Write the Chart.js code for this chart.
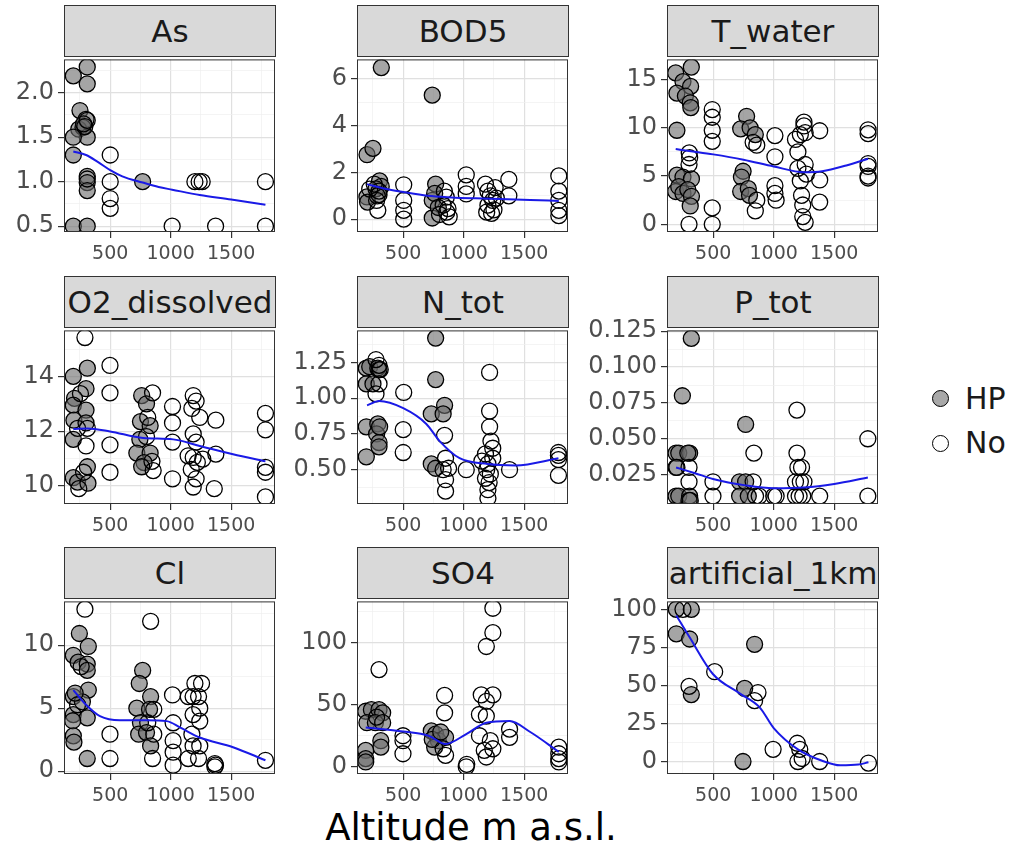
<!DOCTYPE html>
<html>
<head>
<title>Altitude facets</title>
<script src="https://cdn.jsdelivr.net/npm/chart.js@4"></script>
<style>
    body { margin: 0; background: #fff; font-family: "DejaVu Sans", sans-serif; }
    #wrap { position: relative; width: 1014px; height: 851px; overflow: hidden; background: #fff; }
    canvas { position: absolute; }
    .strip { position: absolute; box-sizing: border-box; background: #D9D9D9; border: 1px solid #333;
             color: #1A1A1A; font-size: 31px; text-align: center; height: 52px; line-height: 50px; white-space: nowrap; }
    .key { position: absolute; width: 17px; height: 17px; box-sizing: border-box; border: 1.3px solid #000; border-radius: 50%; }
    .lab { position: absolute; font-size: 30px; line-height: 36px; color: #1A1A1A; }
    #xtitle { position: absolute; left: 221px; width: 500px; top: 806px; font-size: 37px; line-height: 44px; text-align: center; color: #000; }
</style>
<script>
// x axis (shared by all panels)
const xMajor = [500, 1000, 1500];
const xLabels = ['500', '1000', '1500'];
const xMinor = [250, 750, 1250, 1750];

// As
const asHP = [[195,2.19],[310,2.29],[310,2.10],[250,1.80],[300,1.70],[240,1.59],[275,1.61],[310,1.50],[195,1.50],[195,1.30],[310,1.06],[310,0.99],[310,0.90],[768,1.0],[195,0.5],[310,0.5],[280,1.65]];
const asNo = [[310,1.69],[290,1.62],[500,1.30],[500,1.0],[500,0.81],[500,0.70],[1012,0.5],[1200,1.0],[1235,1.0],[1260,1.0],[1371,0.5],[1783,1.0],[1783,0.5],[310,1.03]];
const asFit = [[195,1.34],[300,1.30],[400,1.22],[500,1.13],[600,1.06],[768,0.99],[900,0.94],[1012,0.91],[1240,0.85],[1500,0.80],[1783,0.74]];
const asY = [0.5, 1, 1.5, 2];
const asYLab = ['0.5', '1.0', '1.5', '2.0'];
const asYMinor = [0.75, 1.25, 1.75, 2.25];

// BOD5
const bodHP = [[319,6.49],[740,5.31],[201,2.76],[250,3.03],[305,1.64],[318,1.4],[200,0.95],[205,0.73],[275,1.3],[300,1.05],[768,1.5],[740,0.8],[760,1.1],[740,0.05],[790,0.5]];
const bodNo = [[223,1.29],[280,0.8],[290,0.38],[285,1.0],[260,1.5],[300,1.2],[504,1.47],[504,0.8],[504,0.38],[504,0.0],[856,0.94],[830,0.6],[860,0.3],[880,0.1],[870,0.45],[840,1.2],[800,0.2],[1021,1.9],[1021,1.4],[1021,1.08],[1180,1.5],[1200,1.2],[1220,1.0],[1240,0.8],[1200,0.6],[1250,0.4],[1230,0.25],[1190,0.3],[1260,1.35],[1270,0.9],[1373,1.7],[1373,1.0],[1786,1.85],[1786,1.2],[1786,0.8],[1786,0.38],[1786,0.15]];
const bodFit = [[201,1.5],[350,1.3],[500,1.16],[700,1.0],[900,0.93],[1100,0.89],[1300,0.86],[1550,0.82],[1786,0.78]];
const bodY = [0, 2, 4, 6];
const bodYLab = ['0', '2', '4', '6'];
const bodYMinor = [1, 3, 5];

// T_water
const twHP = [[190,15.7],[319,16.3],[250,14.8],[313,14.3],[200,13.6],[270,13.3],[310,12.6],[315,12.1],[200,9.75],[200,5.1],[250,4.9],[320,4.7],[190,3.4],[215,3.9],[250,3.2],[290,3.6],[320,2.9],[310,1.9],[776,11.2],[727,9.9],[805,10.0],[848,9.3],[747,5.5],[733,4.9],[727,3.4],[790,3.7],[800,3.0]];
const twNo = [[302,7.4],[305,6.9],[300,6.2],[300,0],[492,11.9],[492,11.1],[492,9.75],[492,8.6],[492,1.7],[492,0],[848,1.4],[830,8.5],[860,8.2],[860,2.5],[1010,9.2],[1010,7.0],[1010,4.0],[1010,3.2],[1020,2.5],[1180,8.8],[1200,7.5],[1200,5.8],[1220,9.3],[1220,4.5],[1230,3.0],[1240,2.0],[1240,0.8],[1250,10.2],[1250,10.6],[1260,9.5],[1260,6.2],[1260,0.2],[1270,5.2],[1380,9.7],[1380,4.6],[1380,2.3],[1780,9.8],[1780,9.4],[1780,6.3],[1780,6.0],[1780,5.0],[1780,4.8]];
const twFit = [[190,7.8],[300,7.6],[500,7.25],[750,6.7],[1000,6.0],[1250,5.4],[1400,5.5],[1600,6.1],[1780,6.8]];
const twY = [0, 5, 10, 15];
const twYLab = ['0', '5', '10', '15'];
const twYMinor = [2.5, 7.5, 12.5];

// O2_dissolved
const o2HP = [[195,14.0],[311,14.3],[300,13.55],[205,13.2],[195,12.95],[300,12.77],[200,12.4],[300,12.3],[195,11.7],[311,10.7],[195,10.3],[230,10.14],[316,10.1],[760,13.3],[800,13.0],[750,12.35],[830,12.2],[745,11.7],[720,11.2],[830,11.2],[780,10.85],[760,10.7]];
const o2No = [[291,15.42],[254,13.37],[230,12.1],[311,12.1],[300,11.46],[280,10.5],[240,9.9],[498,14.4],[498,13.4],[498,11.5],[498,10.5],[850,13.4],[810,12.5],[800,11.8],[845,10.9],[855,10.56],[1015,12.9],[1015,12.3],[1015,11.6],[1015,10.26],[1186,13.3],[1210,13.1],[1175,12.83],[1240,12.5],[1186,11.9],[1210,11.6],[1144,11.1],[1186,11.04],[1220,10.86],[1170,10.6],[1210,10.26],[1186,9.96],[1265,10.98],[1373,12.4],[1373,11.16],[1360,9.9],[1783,12.65],[1783,12.05],[1783,10.68],[1783,10.5],[1783,9.6]];
const o2Fit = [[195,12.08],[311,12.1],[498,11.99],[773,11.75],[1020,11.7],[1240,11.46],[1515,11.16],[1783,10.9]];
const o2Y = [10, 12, 14];
const o2YLab = ['10', '12', '14'];
const o2YMinor = [11, 13, 15];

// N_tot
const ntHP = [[768,1.42],[768,1.13],[195,1.21],[223,1.22],[290,1.21],[195,1.1],[250,1.1],[195,0.8],[290,0.82],[280,0.75],[300,0.69],[300,0.66],[195,0.59],[732,0.89],[842,0.95],[830,0.89],[732,0.54],[768,0.51],[300,1.2],[305,0.8]];
const ntNo = [[1214,1.18],[275,1.27],[300,1.23],[310,1.2],[300,1.1],[275,1.03],[504,1.04],[500,0.78],[500,0.62],[842,0.74],[850,0.58],[875,0.51],[850,0.43],[850,0.35],[830,0.5],[1021,0.5],[1214,0.91],[1214,0.8],[1225,0.70],[1240,0.65],[1180,0.61],[1150,0.56],[1200,0.54],[1190,0.50],[1180,0.44],[1210,0.41],[1200,0.36],[1200,0.30],[1379,0.5],[1783,0.62],[1783,0.6],[1783,0.57],[1783,0.46],[1240,0.58],[1220,0.47]];
const ntFit = [[201,0.95],[300,0.98],[500,0.93],[691,0.82],[801,0.70],[966,0.58],[1198,0.54],[1429,0.53],[1783,0.58]];
const ntY = [0.5, 0.75, 1.0, 1.25];
const ntYLab = ['0.50', '0.75', '1.00', '1.25'];
const ntYMinor = [0.375, 0.625, 0.875, 1.125, 1.375];

// P_tot
const ptHP = [[319,0.12],[245,0.08],[768,0.06],[193,0.04],[215,0.04],[305,0.04],[290,0.04],[193,0.03],[193,0.01],[215,0.01],[305,0.01],[718,0.02],[768,0.02],[718,0.01],[790,0.01],[310,0.007]];
const ptNo = [[836,0.04],[200,0.03],[300,0.03],[300,0.02],[300,0.007],[498,0.02],[498,0.01],[830,0.02],[850,0.01],[880,0.01],[1000,0.01],[1020,0.01],[1192,0.07],[1192,0.04],[1200,0.03],[1230,0.03],[1180,0.02],[1220,0.02],[1180,0.01],[1210,0.01],[1240,0.01],[1250,0.02],[1380,0.01],[1778,0.05],[1778,0.01]];
const ptFit = [[193,0.03],[350,0.026],[498,0.022],[768,0.0175],[1000,0.0155],[1250,0.016],[1500,0.0185],[1778,0.023]];
const ptY = [0.025, 0.05, 0.075, 0.1, 0.125];
const ptYLab = ['0.025', '0.050', '0.075', '0.100', '0.125'];
const ptYMinor = [0.0125, 0.0375, 0.0625, 0.0875, 0.1125];

// Cl
const clHP = [[245,10.93],[319,9.9],[195,9.2],[235,8.65],[310,8.5],[310,8.0],[319,6.44],[195,5.92],[195,4.49],[310,4.23],[190,4.0],[195,2.8],[200,2.3],[310,1.0],[768,8.0],[740,6.96],[834,5.92],[720,5.0],[825,4.9],[750,3.84],[735,2.93],[800,3.06],[834,2.0],[270,5.5],[210,6.2]];
const clNo = [[291,12.86],[260,8.3],[230,5.27],[498,2.93],[498,1.0],[834,11.9],[860,4.9],[810,3.84],[860,2.93],[850,1.0],[1015,6.05],[1020,3.84],[1020,2.42],[1020,1.5],[1020,0.47],[1200,6.96],[1255,6.96],[1145,5.92],[1185,5.92],[1230,5.92],[1185,4.49],[1240,5.0],[1240,3.97],[1175,2.93],[1185,2.0],[1240,2.0],[1145,1.0],[1230,1.0],[1365,0.6],[1365,0.34],[1370,0.47],[1783,0.86]];
const clFit = [[195,6.44],[300,5.27],[415,4.36],[580,4.03],[800,4.03],[966,3.97],[1080,3.45],[1240,2.67],[1515,1.9],[1783,0.86]];
const clY = [0, 5, 10];
const clYLab = ['0', '5', '10'];
const clYMinor = [2.5, 7.5, 12.5];

// SO4
const so4HP = [[190,44.7],[237,46],[300,46],[330,43.4],[200,35.5],[270,35.5],[330,35.5],[315,21],[315,15.8],[190,13.2],[190,6.6],[190,3.9],[732,28.9],[768,26.3],[790,21],[760,15.8],[850,23.7],[740,22],[810,28]];
const so4No = [[1241,127.6],[1241,107.9],[1187,96.8],[300,78.2],[842,57.4],[842,43.4],[1145,57.9],[1241,57.9],[1187,52.6],[1130,42.1],[1187,40.8],[1130,25],[498,25],[498,21],[498,10.5],[850,9.2],[830,14.5],[1021,0],[1025,2],[1170,13.2],[1187,7.9],[1241,14.5],[1220,21],[1379,23.7],[1379,30.3],[1786,15.8],[1786,10.5],[1786,6.6],[1786,3.9],[280,40]];
const so4Fit = [[190,31.6],[500,28.4],[710,25],[850,18.4],[1021,26.3],[1187,35.5],[1379,36.8],[1550,28],[1786,12]];
const so4Y = [0, 50, 100];
const so4YLab = ['0', '50', '100'];
const so4YMinor = [25, 75, 125];

// artificial_1km
const artHP = [[195,100],[319,100],[195,83.9],[305,80.5],[319,44],[842,77],[760,48],[746,0]];
const artNo = [[250,100],[300,49.4],[512,59],[870,45.3],[842,40],[995,8],[1195,12],[1215,8],[1235,2],[1200,0],[1380,0],[1783,-1]];
const artFit = [[195,96],[305,81.6],[497,57.5],[718,44.8],[884,35.6],[1000,22],[1200,8],[1400,0.5],[1550,-2.5],[1700,-2],[1783,-0.5]];
const artY = [0, 25, 50, 75, 100];
const artYLab = ['0', '25', '50', '75', '100'];
const artYMinor = [12.5, 37.5, 62.5, 87.5];

const colLeft = [64, 357, 667];
const rowTop = [56, 327, 598];
const rowH = [176, 177, 176];
const panelW = 211;

const panels = [
    {name: 'As', hp: asHP, no: asNo, fit: asFit, yt: asY, yl: asYLab, ym: asYMinor, min: 0.434, max: 2.375, col: 0, row: 0},
    {name: 'BOD5', hp: bodHP, no: bodNo, fit: bodFit, yt: bodY, yl: bodYLab, ym: bodYMinor, min: -0.55, max: 6.84, col: 1, row: 0},
    {name: 'T_water', hp: twHP, no: twNo, fit: twFit, yt: twY, yl: twYLab, ym: twYMinor, min: -0.8, max: 17.1, col: 2, row: 0},
    {name: 'O2_dissolved', hp: o2HP, no: o2No, fit: o2Fit, yt: o2Y, yl: o2YLab, ym: o2YMinor, min: 9.34, max: 15.68, col: 0, row: 1},
    {name: 'N_tot', hp: ntHP, no: ntNo, fit: ntFit, yt: ntY, yl: ntYLab, ym: ntYMinor, min: 0.26, max: 1.474, col: 1, row: 1},
    {name: 'P_tot', hp: ptHP, no: ptNo, fit: ptFit, yt: ptY, yl: ptYLab, ym: ptYMinor, min: 0.0045, max: 0.1256, col: 2, row: 1},
    {name: 'Cl', hp: clHP, no: clNo, fit: clFit, yt: clY, yl: clYLab, ym: clYMinor, min: -0.23, max: 13.48, col: 0, row: 2},
    {name: 'SO4', hp: so4HP, no: so4No, fit: so4Fit, yt: so4Y, yl: so4YLab, ym: so4YMinor, min: -5.8, max: 133.1, col: 1, row: 2},
    {name: 'artificial_1km', hp: artHP, no: artNo, fit: artFit, yt: artY, yl: artYLab, ym: artYMinor, min: -8.2, max: 105.2, col: 2, row: 2}
];

// draws the dark frame round each panel
const panelBorder = {
    id: 'panelBorder',
    afterDraw(chart) {
        const a = chart.chartArea, c = chart.ctx;
        c.save();
        c.strokeStyle = '#333333';
        c.lineWidth = 1;
        c.strokeRect(a.left + 0.5, a.top + 0.5, a.right - a.left - 1, a.bottom - a.top - 1);
        c.restore();
    }
};

function toXY(arr) {
    return arr.map(p => ({x: p[0], y: p[1]}));
}

// puts major + minor breaks on a scale (minor ones get no label)
function setTicks(major, minor) {
    return function(scale) {
        let all = major.map(v => ({value: v, major: true})).concat(minor.map(v => ({value: v, major: false})));
        all.sort((a, b) => a.value - b.value);
        scale.ticks = all.filter(t => t.value >= scale.min && t.value <= scale.max);
    };
}

function gridOpts() {
    return {
        color: c => (c.tick && c.tick.major) ? '#E0E0E0' : '#EFEFEF',
        lineWidth: c => (c.tick && c.tick.major) ? 1.2 : 0.7,
        tickColor: c => (c.tick && c.tick.major) ? '#333333' : 'rgba(0,0,0,0)',
        tickLength: 6,
        drawTicks: true
    };
}

function makePanel(p, wrap) {
    const L = colLeft[p.col], T = rowTop[p.row], H = rowH[p.row];
    const strip = document.createElement('div');
    strip.className = 'strip';
    strip.style.left = L + 'px';
    strip.style.top = (T - 51) + 'px';
    strip.style.width = (panelW + 1) + 'px';
    strip.textContent = p.name;
    wrap.appendChild(strip);

    const cv = document.createElement('canvas');
    cv.width = 85 + panelW + 15;
    cv.height = 15 + H + 40;
    cv.style.left = (L - 85) + 'px';
    cv.style.top = (T - 15) + 'px';
    wrap.appendChild(cv);

    new Chart(cv.getContext('2d'), {
        type: 'scatter',
        data: {
            datasets: [
                {
                    data: toXY(p.fit), showLine: true, borderColor: '#1a1ae6', borderWidth: 2,
                    pointRadius: 0, cubicInterpolationMode: 'monotone', fill: false, order: 0
                },
                {
                    data: toXY(p.no), backgroundColor: 'rgba(0,0,0,0)', borderColor: '#000000',
                    borderWidth: 1.3, pointRadius: 8, order: 1
                },
                {
                    data: toXY(p.hp), backgroundColor: 'rgba(105,105,105,0.6)', borderColor: '#000000',
                    borderWidth: 1.3, pointRadius: 8, order: 2
                }
            ]
        },
        options: {
            responsive: false,
            animation: false,
            events: [],
            devicePixelRatio: 1,
            layout: {padding: {left: 5, top: 15, right: 15, bottom: 0}},
            plugins: {legend: {display: false}, tooltip: {enabled: false}},
            scales: {
                x: {
                    type: 'linear', min: 118, max: 1862, bounds: 'data',
                    afterBuildTicks: setTicks(xMajor, xMinor),
                    afterFit: s => { s.height = 40; },
                    grid: gridOpts(),
                    border: {display: false},
                    ticks: {
                        autoSkip: false, maxRotation: 0, padding: 5, color: '#4D4D4D',
                        font: {family: 'DejaVu Sans', size: 19},
                        callback: v => { const i = xMajor.indexOf(v); return i >= 0 ? xLabels[i] : ''; }
                    }
                },
                y: {
                    type: 'linear', min: p.min, max: p.max, bounds: 'data',
                    afterBuildTicks: setTicks(p.yt, p.ym),
                    afterFit: s => { s.width = 80; },
                    grid: gridOpts(),
                    border: {display: false},
                    ticks: {
                        autoSkip: false, padding: 4, color: '#4D4D4D',
                        font: {family: 'DejaVu Sans', size: 24},
                        callback: v => { const i = p.yt.indexOf(v); return i >= 0 ? p.yl[i] : ''; }
                    }
                }
            }
        },
        plugins: [panelBorder]
    });
}

document.addEventListener('DOMContentLoaded', function() {
    const wrap = document.getElementById('wrap');
    panels.forEach(p => makePanel(p, wrap));
});
</script>
</head>
<body>
<div id="wrap">
    <div class="key" style="left:932px;top:390px;background:#A8A8A8"></div>
    <div class="lab" style="left:965px;top:381px">HP</div>
    <div class="key" style="left:932px;top:435px;background:#FFFFFF"></div>
    <div class="lab" style="left:965px;top:425px">No</div>
    <div id="xtitle">Altitude m a.s.l.</div>
</div>
</body>
</html>
